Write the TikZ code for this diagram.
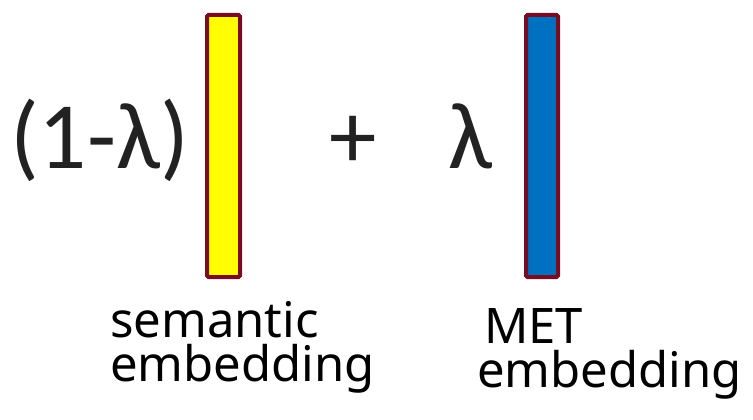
\documentclass[tikz,border=0pt]{standalone}
\usepackage{fontspec}
\setmainfont{Carlito}
\newfontfamily\labelfont{Noto Sans}
\definecolor{barborder}{HTML}{7A0C22}
\definecolor{baryellow}{HTML}{FFFF00}
\definecolor{barblue}{HTML}{0070C0}
\definecolor{ink}{HTML}{222222}
\begin{document}
\begin{tikzpicture}[x=1pt,y=-1pt,
  bar/.style={draw=barborder,line width=4pt,rounded corners=1.5pt},
  bigtext/.style={text=ink,inner sep=0pt,anchor=base west,font=\fontsize{95}{100}\selectfont},
  lbl/.style={text=black,inner sep=0pt,anchor=base west,font=\labelfont\fontsize{49}{44}\selectfont}]
\useasboundingbox (0,0) rectangle (753,420);
\draw[bar,fill=baryellow] (207,15) rectangle (240,277);
\draw[bar,fill=barblue] (526,15) rectangle (558,277);
\node[bigtext] (coef) at (10,168) {(1-λ)};
\node[bigtext] (plus) at (329,168) {+};
\node[bigtext] (lam) at (448,168) {λ};
\node[lbl] (sem1) at (110,337) {semantic};
\node[lbl] (sem2) at (110,381) {embedding};
\node[lbl] (met1) at (484,343) {MET};
\node[lbl] (met2) at (477,387) {embedding};
\end{tikzpicture}
\end{document}
